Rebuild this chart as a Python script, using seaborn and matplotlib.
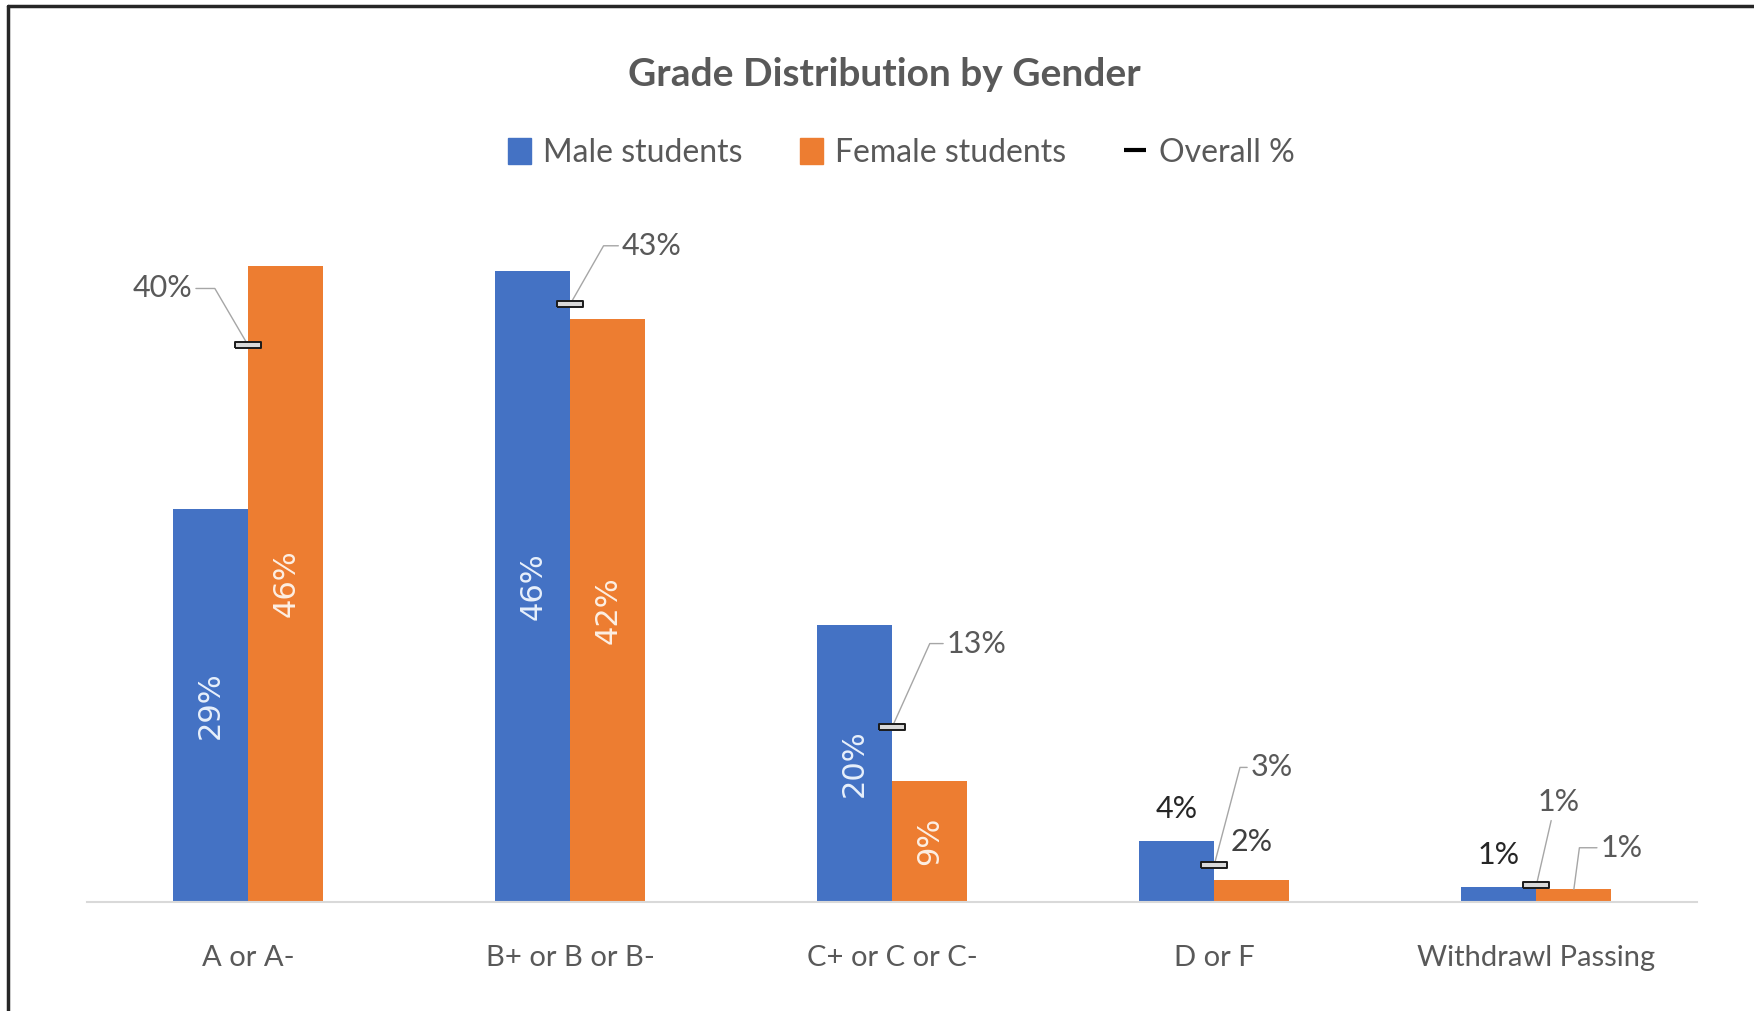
import math
import seaborn as sns
import pandas as pd
import matplotlib.pyplot as plt
from matplotlib.lines import Line2D
from matplotlib.patches import Patch

# values (percent)
grades = ["A or A-", "B+ or B or B-", "C+ or C or C-", "D or F", "Withdrawl Passing"]
male = [28.5, 45.8, 20.1, 4.4, 1.1]
female = [46.2, 42.3, 8.8, 1.6, 0.9]
overall = [40.4, 43.4, 12.7, 2.7, 1.2]
male_labels = ["29%", "46%", "20%", "4%", "1%"]
female_labels = ["46%", "42%", "9%", "2%", "1%"]
overall_labels = ["40%", "43%", "13%", "3%", "1%"]

BLUE = "#4472C4"
ORANGE = "#ED7D31"
GRAY = "#595959"
LEADER = "#A6A6A6"

df = pd.DataFrame({
    "grade": grades * 2,
    "pct": male + female,
    "gender": ["Male students"] * 5 + ["Female students"] * 5,
})

sns.set_style("white")
plt.rcParams["font.family"] = ["Lato", "DejaVu Sans"]

fig = plt.figure(figsize=(17.54, 10.11), dpi=100)
ax = fig.add_axes([0.0497, 0.108, 0.918, 0.692])

sns.barplot(data=df, x="grade", y="pct", hue="gender",
            palette=[BLUE, ORANGE], saturation=1, width=0.466, gap=0,
            linewidth=0, legend=False, ax=ax)

ax.set_xlim(-0.5, 4.5)
ax.set_ylim(0, 50.8)
ax.set_xlabel("")
ax.set_ylabel("")
ax.set_yticks([])
for s in ["top", "right", "left"]:
    ax.spines[s].set_visible(False)
ax.spines["bottom"].set_color("#D9D9D9")
ax.spines["bottom"].set_linewidth(1.5)
ax.tick_params(axis="x", length=0, pad=31, labelsize=21, labelcolor=GRAY)

bw = 0.233
# labels inside / above bars
for i in range(5):
    xm, xf = i - bw / 2, i + bw / 2
    if male[i] > 8:
        ax.text(xm, male[i] / 2, male_labels[i], rotation=90, ha="center",
                va="center", color="#E8F0FB", fontsize=22,
                family=["DejaVu Sans"])
    else:
        ax.annotate(male_labels[i], (xm, male[i]), xytext=(0, 23),
                    textcoords="offset points", ha="center", va="center",
                    fontsize=22, color="#262626")
    if female[i] > 8:
        ax.text(xf, female[i] / 2, female_labels[i], rotation=90, ha="center",
                va="center", color="#FDEFE4", fontsize=22,
                family=["DejaVu Sans"])
    elif i == 3:
        ax.annotate(female_labels[i], (xf, female[i]), xytext=(0, 27),
                    textcoords="offset points", ha="center", va="center",
                    fontsize=22, color="#404040")

# overall markers
rect = [(-1, -0.22), (1, -0.22), (1, 0.22), (-1, 0.22), (-1, -0.22)]
ax.plot(range(5), overall, ls="", marker=rect, ms=19, mfc="#D9D9D9",
        mec="#1a1a1a", mew=1.4, zorder=5)

# overall labels with leader lines: (text dx, dy, corner dx, ha) in points
placements = [(-40, 41, -24, "right"), (37, 42, 24, "left"),
              (39, 60, 27, "left"), (26, 70, 18.5, "left")]
for i, (dx, dy, cx, ha) in enumerate(placements):
    angB = math.degrees(math.atan2(dy, cx))
    relx = 1 if ha == "right" else 0
    ax.annotate(overall_labels[i], (i, overall[i]), xytext=(dx, dy),
                textcoords="offset points", ha=ha, va="center", fontsize=22,
                color=GRAY,
                arrowprops=dict(arrowstyle="-", color=LEADER, lw=1,
                                shrinkA=0, shrinkB=2, relpos=(relx, 0.5),
                                connectionstyle=f"angle,angleA=0,angleB={angB},rad=0"))

# withdrawl overall label
ax.annotate(overall_labels[4], (4, overall[4]), xytext=(16, 60),
            textcoords="offset points", ha="center", va="center", fontsize=22,
            color=GRAY,
            arrowprops=dict(arrowstyle="-", color=LEADER, lw=1, shrinkA=1,
                            shrinkB=2, relpos=(0.35, 0)))
# withdrawl female label
angB = math.degrees(math.atan2(30, 4))
ax.annotate(female_labels[4], (4 + bw / 2, female[4]), xytext=(19, 30),
            textcoords="offset points", ha="left", va="center", fontsize=22,
            color=GRAY,
            arrowprops=dict(arrowstyle="-", color=LEADER, lw=1, shrinkA=0,
                            shrinkB=0, relpos=(0, 0.5),
                            connectionstyle=f"angle,angleA=0,angleB={angB},rad=0"))

fig.text(0.504, 0.926, "Grade Distribution by Gender", ha="center",
         va="center", fontsize=28, fontweight="bold", color=GRAY)

handles = [Patch(color=BLUE), Patch(color=ORANGE),
           Line2D([], [], color="black", marker="_", ls="", ms=16, mew=3)]
fig.legend(handles, ["Male students", "Female students", "Overall %"],
           loc="center", bbox_to_anchor=(0.514, 0.849), ncol=3, frameon=False,
           fontsize=23, labelcolor=GRAY, handlelength=0.7, handleheight=0.9,
           handletextpad=0.4, columnspacing=1.8)

# frame lines at top and left of the picture
fig.add_artist(Line2D([0.0046, 1], [0.994, 0.994], color="#262626", lw=2.5))
fig.add_artist(Line2D([0.0046, 0.0046], [0, 0.994], color="#262626", lw=2.5))

fig.savefig("out.png", dpi=100, facecolor="white")
